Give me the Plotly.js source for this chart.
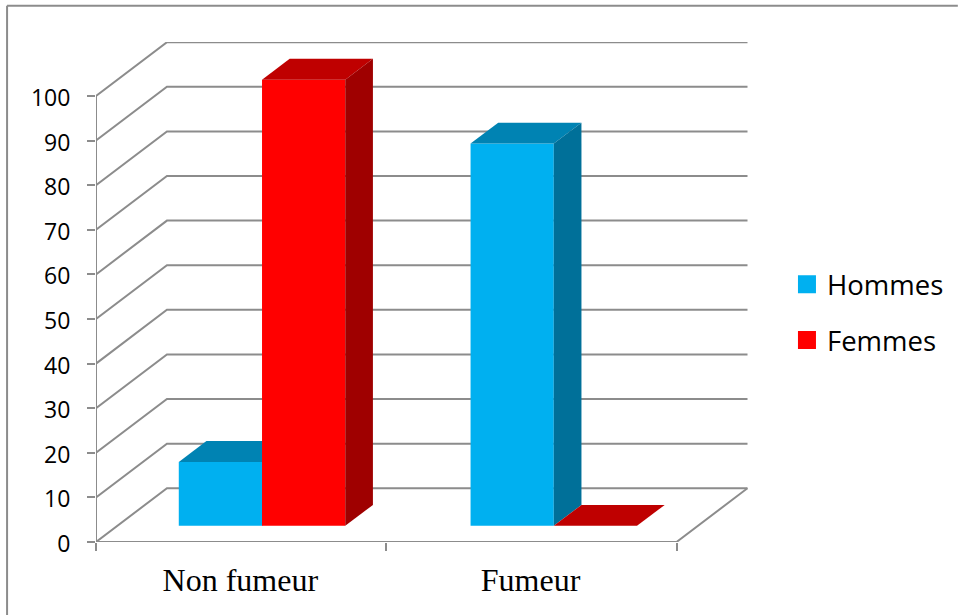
<!DOCTYPE html>
<html>
<head>
<meta charset="utf-8">
<script src="https://cdn.plot.ly/plotly-3.0.1.min.js"></script>
<style>html,body{margin:0;padding:0;background:#fff}</style>
</head>
<body>
<div id="chart" style="width:958px;height:615px"></div>
<script>
// Survey shares by smoking status and sex
const categories = ['Non fumeur', 'Fumeur'];
const hommes = [14.3, 85.7];
const femmes = [100, 0];
const yTicks = [0, 10, 20, 30, 40, 50, 60, 70, 80, 90, 100];

const hommesColors = { front: '#00B0F0', top: '#0083B3', side: '#007099' };
const femmesColors = { front: '#FF0000', top: '#BF0000', side: '#9F0000' };
const gridColor = '#8C8C8C';

// Plot frame in pixels
const plotL = 95.5, plotR = 748, plotT = 42.3, plotB = 541.7;
const W = 958, H = 615;
const pxPerCat = 290.5, pxPerUnit = 4.455;

// Oblique projection: depth 0..1 shifts a point along the floor diagonal
const depthX = 71 / pxPerCat, depthY = 53.7 / pxPerUnit;
const zFront = 0.30, zBack = 0.69;
const barW = 83.3 / pxPerCat;
const groupPitch = 292 / pxPerCat;
const xMax = (plotR - plotL) / pxPerCat, yMax = (plotB - plotT) / pxPerUnit;
const catMax = categories.length;

const px = (x, z) => x + z * depthX;
const py = (y, z) => y + z * depthY;
const groupCenter = i => 0.5 + i * groupPitch - 0.0014;

function polygon(corners, color, xa, ya) {
  return {
    type: 'scatter', mode: 'lines', xaxis: xa, yaxis: ya,
    x: corners.map(c => px(c[0], c[2])),
    y: corners.map(c => py(c[1], c[2])),
    fill: 'toself', fillcolor: color, line: { width: 0, color: color },
    hoverinfo: 'skip', showlegend: false
  };
}

function series(name, values, shift, colors, xa, ya) {
  const centers = categories.map((_, i) => px(groupCenter(i) + shift, zFront));
  const bars = {
    type: 'bar', name: name, xaxis: xa, yaxis: ya,
    x: centers, y: values, base: values.map(() => py(0, zFront)),
    width: barW, marker: { color: colors.front, line: { width: 0 } },
    customdata: categories, showlegend: false,
    hovertemplate: '%{customdata}: ' + '%{y}<extra>' + name + '</extra>'
  };
  const faces = [];
  values.forEach((v, i) => {
    const x0 = groupCenter(i) + shift - barW / 2, x1 = x0 + barW;
    faces.push(polygon([[x0, v, zFront], [x1, v, zFront], [x1, v, zBack], [x0, v, zBack]], colors.top, xa, ya));
    if (v > 0) {
      faces.push(polygon([[x1, 0, zFront], [x1, v, zFront], [x1, v, zBack], [x1, 0, zBack]], colors.side, xa, ya));
    }
  });
  return [bars].concat(faces);
}

function legendEntry(name, color) {
  return {
    type: 'scatter', mode: 'markers', name: name, legendgroup: name,
    x: [null], y: [null], hoverinfo: 'skip',
    marker: { symbol: 'square', size: 16, color: color, line: { width: 2, color: color } }
  };
}

const traces = [
  ...series('Hommes', hommes, -barW / 2, hommesColors, 'x', 'y'),
  ...series('Femmes', femmes, barW / 2, femmesColors, 'x2', 'y2'),
  legendEntry('Hommes', hommesColors.front),
  legendEntry('Femmes', femmesColors.front)
];

// Walls and floor sit under the bars
const lineStyle = { color: gridColor, width: 2 };
const shapes = yTicks.map(v => ({
  type: 'path', xref: 'x', yref: 'y', layer: 'below', line: lineStyle,
  path: `M${px(0, 0)},${py(v, 0)}L${px(0, 1)},${py(v, 1)}L${px(catMax, 1)},${py(v, 1)}`
}));
shapes.push({
  type: 'path', xref: 'x', yref: 'y', layer: 'below', line: lineStyle,
  path: `M${px(0, 0)},${py(yTicks[yTicks.length - 1], 0)}L${px(0, 0)},${py(0, 0)}L${px(catMax, 0)},${py(0, 0)}L${px(catMax, 1)},${py(0, 1)}`
});

// Chart-area outline: top and left edges
const paperX = p => (p - plotL) / (plotR - plotL);
const paperY = p => (plotB - p) / (plotB - plotT);
shapes.push(
  { type: 'line', xref: 'paper', yref: 'paper', layer: 'below', line: lineStyle,
    x0: paperX(6.5), x1: paperX(W), y0: paperY(6), y1: paperY(6) },
  { type: 'line', xref: 'paper', yref: 'paper', layer: 'below', line: lineStyle,
    x0: paperX(6.5), x1: paperX(6.5), y0: paperY(6), y1: paperY(H) }
);

const layout = {
  width: W, height: H,
  margin: { l: plotL, r: W - plotR, t: plotT, b: H - plotB, pad: 0, autoexpand: false },
  paper_bgcolor: '#fff', plot_bgcolor: 'rgba(0,0,0,0)',
  barmode: 'overlay', dragmode: false, shapes: shapes,
  xaxis: {
    range: [0, xMax], fixedrange: true, showgrid: false, zeroline: false, showline: false,
    tickmode: 'array', tickvals: categories.map((_, i) => i).concat(catMax), ticktext: categories.map(() => '').concat(''),
    ticks: 'outside', ticklen: 8, tickwidth: 2, tickcolor: gridColor
  },
  yaxis: {
    range: [0, yMax], fixedrange: true, showgrid: false, zeroline: false, showline: false,
    tickmode: 'array', tickvals: yTicks, ticktext: yTicks.map(String),
    ticks: 'outside', ticklen: 8, tickwidth: 2, tickcolor: gridColor,
    ticklabelstandoff: 12, ticklabelshift: 2,
    tickfont: { family: '"Open Sans", sans-serif', size: 23, color: '#000' }
  },
  xaxis2: {
    overlaying: 'x', side: 'bottom', range: [0, xMax], fixedrange: true,
    showgrid: false, zeroline: false, showline: false,
    tickmode: 'array', tickvals: categories.map((_, i) => i + 0.497), ticktext: categories,
    ticks: '', ticklabelstandoff: 16,
    tickfont: { family: '"Liberation Serif", serif', size: 32, color: '#000' }
  },
  yaxis2: {
    overlaying: 'y', range: [0, yMax], fixedrange: true, visible: false
  },
  showlegend: true,
  legend: {
    x: paperX(790), xanchor: 'left', y: paperY(260), yanchor: 'top',
    bgcolor: 'rgba(0,0,0,0)', borderwidth: 0, tracegroupgap: 17, indentation: -3,
    font: { family: '"Open Sans", sans-serif', size: 27.5, color: '#000' },
    itemclick: false, itemdoubleclick: false
  }
};

Plotly.newPlot('chart', traces, layout, { displayModeBar: false, responsive: false });
</script>
</body>
</html>
